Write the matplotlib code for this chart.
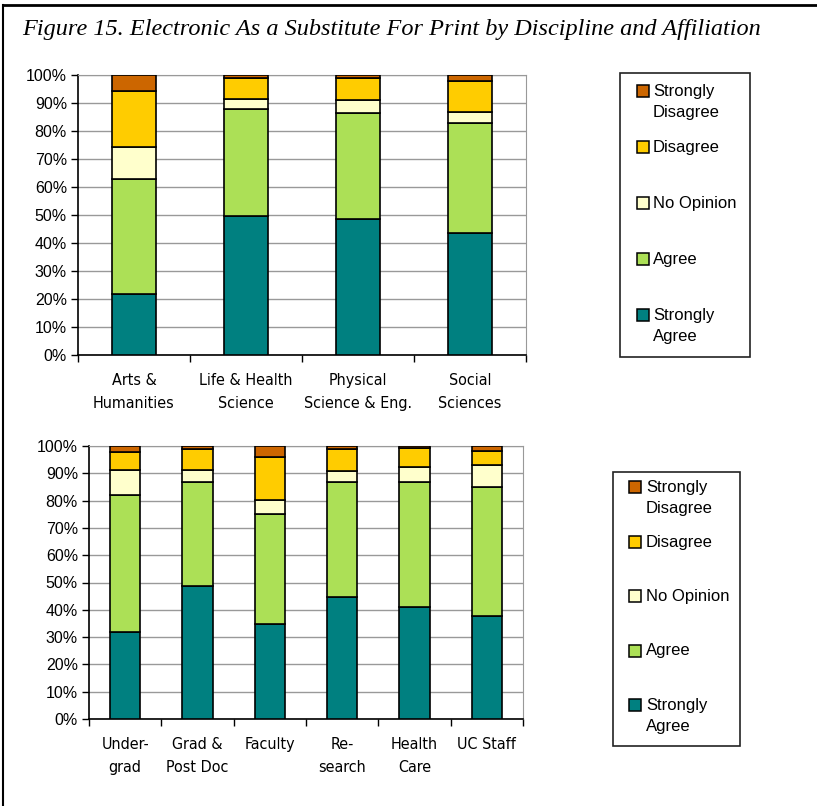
"""
Figure 15 - Electronic as a substitute for print, by discipline and affiliation
"""

import matplotlib.pyplot as plt
from matplotlib.patches import Rectangle
from matplotlib.lines import Line2D
import numpy as np


W, H = 817, 806

# data (percent of respondents)

responses = ["Strongly Agree", "Agree", "No Opinion", "Disagree", "Strongly Disagree"]
legend_labels = ["Strongly\nDisagree", "Disagree", "No Opinion", "Agree", "Strongly\nAgree"]
colors = ["#008080", "#ACE056", "#FFFFCC", "#FFCC00", "#CC6600"]

disciplines = ["Arts &\nHumanities", "Life & Health\nScience",
               "Physical\nScience & Eng.", "Social\nSciences"]
disc_strongly_agree = [21.6, 49.7, 48.6, 43.5]
disc_agree = [41.2, 38.2, 37.7, 39.4]
disc_no_opinion = [11.4, 3.5, 4.5, 3.9]
disc_disagree = [20.0, 7.3, 7.9, 10.9]
disc_strongly_disagree = [5.8, 1.3, 1.3, 2.3]

affiliations = ["Under-\ngrad", "Grad &\nPost Doc", "Faculty",
                "Re-\nsearch", "Health\nCare", "UC Staff"]
aff_strongly_agree = [32.0, 48.8, 34.9, 44.8, 41.2, 37.8]
aff_agree = [50.0, 37.9, 40.2, 41.9, 45.5, 47.3]
aff_no_opinion = [9.3, 4.6, 5.1, 4.3, 5.7, 8.1]
aff_disagree = [6.5, 7.6, 15.8, 7.9, 6.7, 5.1]
aff_strongly_disagree = [2.2, 1.1, 4.0, 1.1, 0.9, 1.7]


def px_box(left, top, right, bottom):
    # pixel box -> figure fraction [l, b, w, h]
    return [left / W, 1 - bottom / H, (right - left) / W, (bottom - top) / H]


def stacked_chart(ax, cats, series, width):
    x = np.arange(len(cats))
    bottom = np.zeros(len(cats))
    for vals, col in zip(series, colors):
        ax.bar(x, vals, width, bottom=bottom, color=col,
               edgecolor="black", linewidth=1.2, zorder=3)
        bottom += np.array(vals)

    ax.set_xlim(-0.5, len(cats) - 0.5)
    ax.set_ylim(0, 100)
    ax.set_yticks(np.arange(0, 101, 10))
    ax.set_yticklabels([f"{v}%" for v in range(0, 101, 10)],
                       fontsize=11.5, family="Liberation Sans")
    ax.yaxis.grid(True, color="#999999", linewidth=1, zorder=0)

    # category labels between boundary ticks, like excel
    ax.set_xticks(np.arange(-0.5, len(cats), 1.0))
    ax.set_xticklabels([])
    ax.set_xticks(x, minor=True)
    ax.set_xticklabels(cats, minor=True, fontsize=11.5,
                       family="DejaVu Sans", fontstretch="condensed",
                       linespacing=1.7)
    ax.tick_params(axis="x", which="minor", length=0, pad=13)
    ax.tick_params(axis="x", which="major", length=5, width=1, direction="out")
    ax.tick_params(axis="y", length=5, width=1, direction="out", pad=3)

    for s in ["top", "right"]:
        ax.spines[s].set_color("#999999")
    for s in ["left", "bottom"]:
        ax.spines[s].set_color("black")
        ax.spines[s].set_linewidth(1.2)


def draw_legend(fig, box, handle_x, text_x, first_y, step):
    left, top, right, bottom = box
    fig.patches.append(Rectangle((left / W, 1 - bottom / H), (right - left) / W,
                                 (bottom - top) / H, transform=fig.transFigure,
                                 facecolor="white", edgecolor="#222222",
                                 linewidth=1.2))
    for i, (lab, col) in enumerate(zip(legend_labels, colors[::-1])):
        y = first_y + i * step
        fig.patches.append(Rectangle((handle_x / W, 1 - (y + 6) / H), 12 / W, 12 / H,
                                     transform=fig.transFigure, facecolor=col,
                                     edgecolor="black", linewidth=1.1))
        fig.text(text_x / W, 1 - (y - 7) / H, lab, fontsize=12,
                 family="Liberation Sans", va="top", ha="left",
                 linespacing=1.5)


fig = plt.figure(figsize=(W / 100, H / 100), dpi=100)

# outer frame
fig.add_artist(Line2D([3 / W, 1], [1 - 5 / H, 1 - 5 / H], color="black",
                      linewidth=2, transform=fig.transFigure))
fig.add_artist(Line2D([3 / W, 3 / W], [0, 1 - 5 / H], color="black",
                      linewidth=1.5, transform=fig.transFigure))

fig.text(22 / W, 1 - 29 / H,
         "Figure 15. Electronic As a Substitute For Print by Discipline and Affiliation",
         fontsize=17.5, family="Liberation Serif", style="italic", va="center")

# discipline chart
ax1 = fig.add_axes(px_box(78, 74.7, 526, 355))
stacked_chart(ax1, disciplines,
              [disc_strongly_agree, disc_agree, disc_no_opinion,
               disc_disagree, disc_strongly_disagree], 0.40)
draw_legend(fig, (620, 73, 750, 357), 637, 653, 91, 56)

# affiliation chart
ax2 = fig.add_axes(px_box(89, 446, 523, 719))
stacked_chart(ax2, affiliations,
              [aff_strongly_agree, aff_agree, aff_no_opinion,
               aff_disagree, aff_strongly_disagree], 0.415)
draw_legend(fig, (613, 472, 740, 746), 629, 646, 487, 54.5)

fig.savefig("out.png", dpi=100)
